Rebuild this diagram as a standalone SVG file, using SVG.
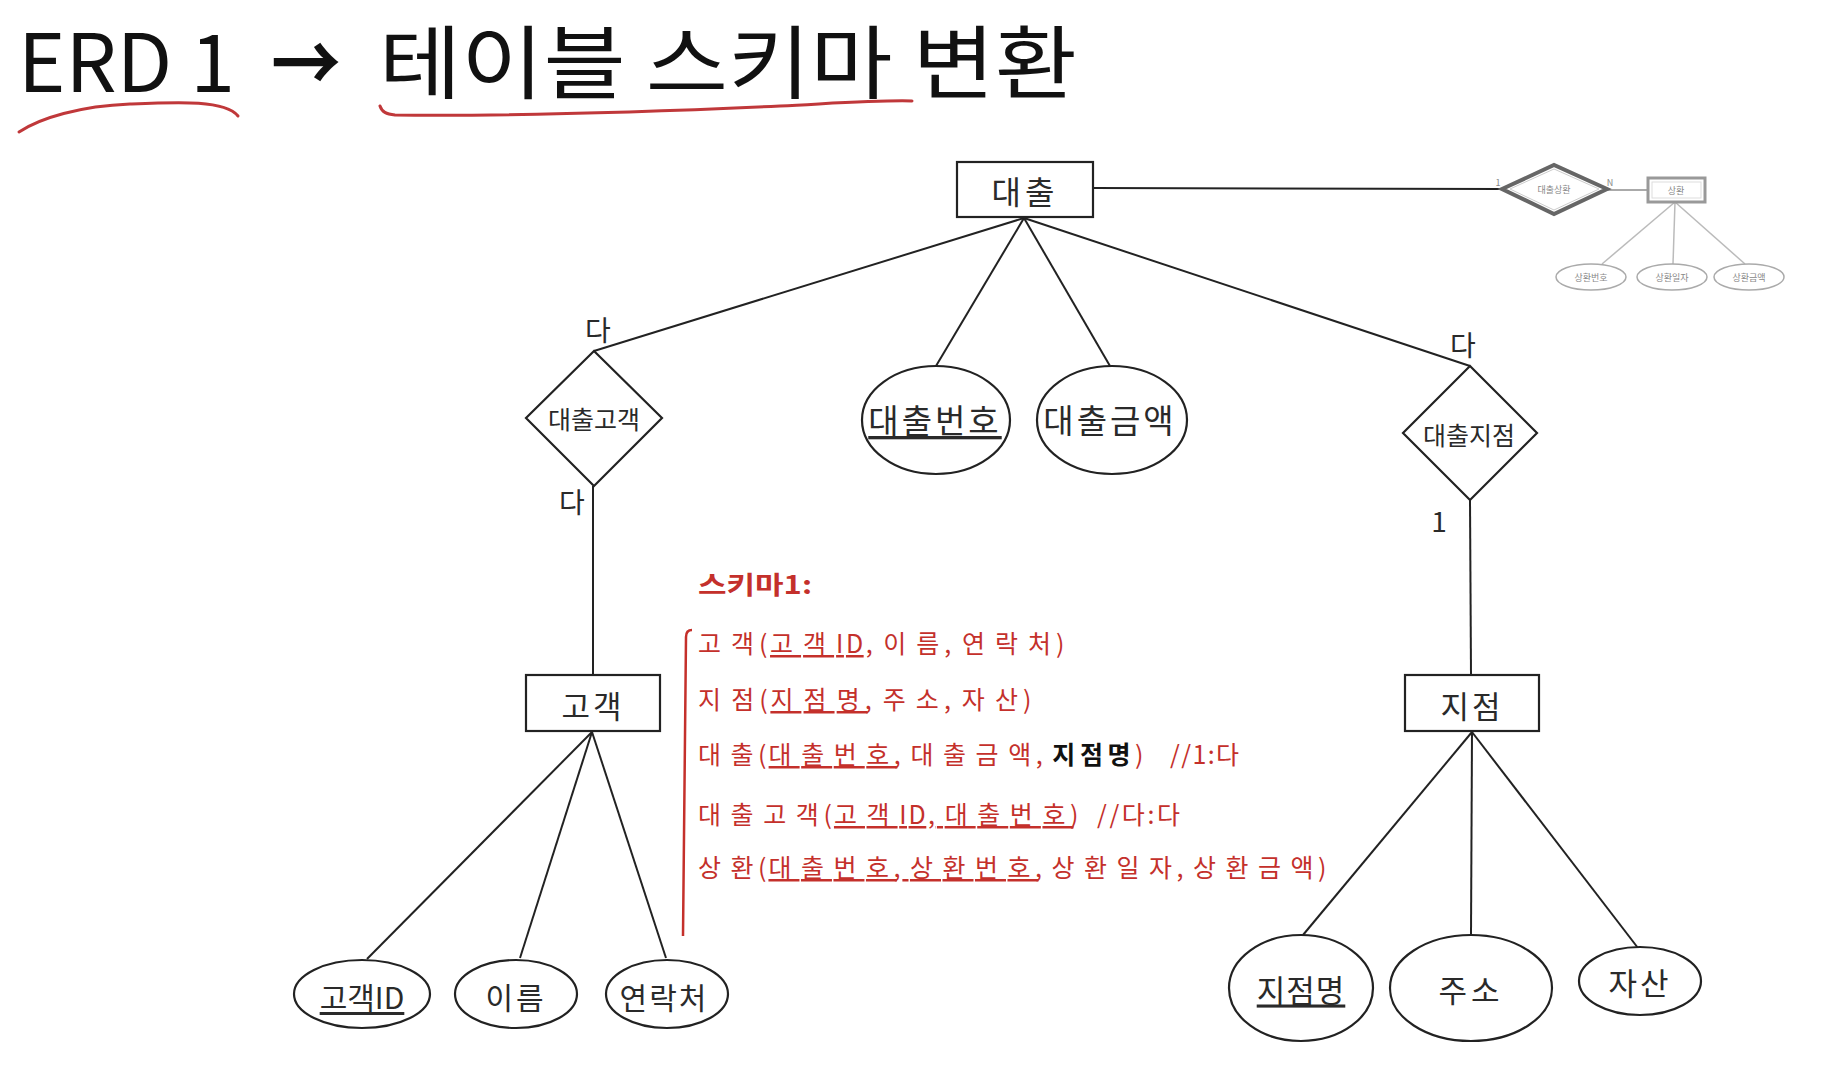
<svg xmlns="http://www.w3.org/2000/svg" width="1846" height="1070" viewBox="0 0 1846 1070">
<style>
.ln{stroke:#222;stroke-width:2;fill:none}
.sh{fill:#fff;stroke:#222;stroke-width:2.2}
.t{font-family:"Noto Sans CJK KR","Noto Sans",sans-serif;fill:#2a2a2a;text-anchor:middle;dominant-baseline:central}
.g{stroke:#aaa;stroke-width:1.5;fill:#fff}
.gt{font-family:"Noto Sans CJK KR",sans-serif;fill:#888;font-size:9px;text-anchor:middle;dominant-baseline:central}
.red{font-family:"Noto Sans CJK KR","Noto Sans",sans-serif;fill:#c4302b;font-size:25px;letter-spacing:8px;dominant-baseline:central}
.p{letter-spacing:0.5px}
.u{text-decoration:underline}
.pen{stroke:#c0383a;stroke-width:3;fill:none;stroke-linecap:round}
</style>
<rect width="1846" height="1070" fill="#fff"/>

<g id="title">
<text x="18" y="92" font-family="'Noto Sans CJK KR','Noto Sans',sans-serif" font-size="80" fill="#111" textLength="217" lengthAdjust="spacingAndGlyphs">ERD 1</text>
<text x="271" y="92" font-family="'Noto Sans CJK KR','Noto Sans',sans-serif" font-size="80" font-weight="bold" fill="#111" textLength="70" lengthAdjust="spacingAndGlyphs">→</text>
<text x="379" y="92" font-family="'Noto Sans CJK KR','Noto Sans',sans-serif" font-size="80" fill="#111" textLength="698" lengthAdjust="spacingAndGlyphs">테이블 스키마 변환</text>
<path class="pen" d="M19,132 C40,118 80,106 130,104 C180,102 225,100 238,116"/>
<path class="pen" d="M380,106 C382,112 386,114 395,115 C500,116 650,112 780,106 C840,103 880,100 912,101"/>
</g>

<g id="connectors">
<line class="ln" x1="1093" y1="188" x2="1502" y2="189"/>
<line class="ln" x1="1024" y1="218" x2="594" y2="351"/>
<line class="ln" x1="1024" y1="218" x2="936" y2="366"/>
<line class="ln" x1="1024" y1="218" x2="1110" y2="366"/>
<line class="ln" x1="1024" y1="218" x2="1470" y2="366"/>
<line class="ln" x1="593" y1="486" x2="593" y2="675"/>
<line class="ln" x1="592" y1="732" x2="367" y2="959"/>
<line class="ln" x1="592" y1="732" x2="520" y2="958"/>
<line class="ln" x1="592" y1="732" x2="666" y2="958"/>
<line class="ln" x1="1470" y1="500" x2="1471" y2="675"/>
<line class="ln" x1="1472" y1="732" x2="1303" y2="935"/>
<line class="ln" x1="1472" y1="732" x2="1471" y2="935"/>
<line class="ln" x1="1472" y1="732" x2="1638" y2="948"/>
<line x1="1607" y1="190" x2="1648" y2="190" stroke="#aaa" stroke-width="2"/>
<line x1="1675" y1="202" x2="1602" y2="264" stroke="#bbb" stroke-width="1.5"/>
<line x1="1675" y1="202" x2="1673" y2="264" stroke="#bbb" stroke-width="1.5"/>
<line x1="1675" y1="202" x2="1745" y2="264" stroke="#bbb" stroke-width="1.5"/>
</g>

<g id="loan">
<rect class="sh" x="957" y="162" width="136" height="55"/>
<text class="t" x="1025" y="190" font-size="32" letter-spacing="4">대출</text>
</g>

<g id="loan-customer">
<polygon class="sh" points="594,351 662,418 594,486 526,418"/>
<text class="t" x="594" y="418" font-size="25">대출고객</text>
<text class="t" x="598" y="329" font-size="28">다</text>
<text class="t" x="572" y="501" font-size="28">다</text>
</g>

<g id="customer">
<rect class="sh" x="526" y="675" width="134" height="56"/>
<text class="t" x="593" y="704" font-size="31" letter-spacing="3">고객</text>
</g>

<g id="attr-customer-id">
<ellipse class="sh" cx="362" cy="994" rx="68" ry="34"/>
<text class="t u" x="362" y="996" font-size="30">고객ID</text>
</g>
<g id="attr-name">
<ellipse class="sh" cx="516" cy="994" rx="61" ry="34"/>
<text class="t" x="516" y="996" font-size="30" letter-spacing="3">이름</text>
</g>
<g id="attr-contact">
<ellipse class="sh" cx="667" cy="994" rx="61" ry="34"/>
<text class="t" x="664" y="996" font-size="30" letter-spacing="2">연락처</text>
</g>

<g id="attr-loan-no">
<ellipse class="sh" cx="936" cy="420" rx="74" ry="54"/>
<text class="t u" x="935" y="419" font-size="33" letter-spacing="3">대출번호</text>
</g>
<g id="attr-loan-amount">
<ellipse class="sh" cx="1112" cy="420" rx="75" ry="54"/>
<text class="t" x="1110" y="419" font-size="33" letter-spacing="3">대출금액</text>
</g>

<g id="loan-branch">
<polygon class="sh" points="1470,366 1537,433 1470,500 1403,433"/>
<text class="t" x="1469" y="434" font-size="25">대출지점</text>
<text class="t" x="1463" y="344" font-size="28">다</text>
<text class="t" x="1439" y="520" font-size="28">1</text>
</g>

<g id="branch">
<rect class="sh" x="1405" y="675" width="134" height="56"/>
<text class="t" x="1472" y="704" font-size="31" letter-spacing="3">지점</text>
</g>
<g id="attr-branch-name">
<ellipse class="sh" cx="1301" cy="988" rx="72" ry="53"/>
<text class="t u" x="1301" y="988" font-size="31" letter-spacing="1">지점명</text>
</g>
<g id="attr-address">
<ellipse class="sh" cx="1471" cy="988" rx="81" ry="53"/>
<text class="t" x="1471" y="988" font-size="31" letter-spacing="4">주소</text>
</g>
<g id="attr-assets">
<ellipse class="sh" cx="1640" cy="981" rx="61" ry="34"/>
<text class="t" x="1640" y="981" font-size="31" letter-spacing="3">자산</text>
</g>

<g id="repay-rel">
<polygon points="1502,189 1554,165 1607,189 1554,214" fill="#fff" stroke="#666" stroke-width="4"/>
<polygon points="1510,189 1554,169 1599,189 1554,210" fill="none" stroke="#ccc" stroke-width="1"/>
<text class="gt" x="1554" y="189" font-size="9">대출상환</text>
<text class="gt" x="1498" y="182" font-size="7">1</text>
<text class="gt" x="1610" y="182" font-size="7">N</text>
</g>
<g id="repayment">
<rect x="1648" y="178" width="57" height="24" fill="#fff" stroke="#999" stroke-width="3"/>
<rect x="1652" y="182" width="49" height="16" fill="none" stroke="#ddd" stroke-width="1"/>
<text class="gt" x="1676" y="190" font-size="10">상환</text>
</g>
<g id="attr-repay-no">
<ellipse class="g" cx="1591" cy="277" rx="35" ry="13"/>
<text class="gt" x="1591" y="277">상환번호</text>
</g>
<g id="attr-repay-date">
<ellipse class="g" cx="1672" cy="277" rx="35" ry="13"/>
<text class="gt" x="1672" y="277">상환일자</text>
</g>
<g id="attr-repay-amount">
<ellipse class="g" cx="1749" cy="277" rx="35" ry="13"/>
<text class="gt" x="1749" y="277">상환금액</text>
</g>

<g id="schema">
<path d="M692,630 Q686,630 686,637 L683,936" stroke="#c4302b" stroke-width="2.5" fill="none"/>
<text class="red" x="698" y="583" font-weight="bold" style="letter-spacing:0" textLength="114" lengthAdjust="spacingAndGlyphs">스키마1:</text>
<text class="red" x="698" y="642" textLength="367" lengthAdjust="spacing">고객<tspan class="p" dx="-5">(</tspan><tspan class="u">고객<tspan class="p">ID</tspan></tspan><tspan class="p">, </tspan>이름<tspan class="p" dx="-5">, </tspan>연락처<tspan class="p" dx="-5">)</tspan></text>
<text class="red" x="698" y="698" textLength="334" lengthAdjust="spacing">지점<tspan class="p" dx="-5">(</tspan><tspan class="u">지점명</tspan><tspan class="p" dx="-5">, </tspan>주소<tspan class="p" dx="-5">, </tspan>자산<tspan class="p" dx="-5">)</tspan></text>
<text class="red" x="698" y="753" textLength="446" lengthAdjust="spacing">대출<tspan class="p" dx="-5">(</tspan><tspan class="u">대출번호</tspan><tspan class="p" dx="-5">, </tspan>대출금액<tspan class="p" dx="-5">, </tspan><tspan fill="#111" font-weight="bold" style="letter-spacing:3px">지점명</tspan><tspan class="p">)</tspan></text>
<text class="red" x="1170" y="753" style="letter-spacing:1px" textLength="70" lengthAdjust="spacing">//1:다</text>
<text class="red" x="698" y="813" textLength="381" lengthAdjust="spacing">대출고객<tspan class="p" dx="-5">(</tspan><tspan class="u">고객<tspan class="p">ID, </tspan>대출번호</tspan><tspan class="p" dx="-5">)</tspan></text>
<text class="red" x="1097" y="813" style="letter-spacing:1px" textLength="84" lengthAdjust="spacing">//다:다</text>
<text class="red" x="698" y="866" textLength="629" lengthAdjust="spacing">상환<tspan class="p" dx="-5">(</tspan><tspan class="u">대출번호<tspan class="p" dx="-5">, </tspan>상환번호</tspan><tspan class="p" dx="-5">, </tspan>상환일자<tspan class="p" dx="-5">, </tspan>상환금액<tspan class="p" dx="-5">)</tspan></text>
</g>
</svg>
